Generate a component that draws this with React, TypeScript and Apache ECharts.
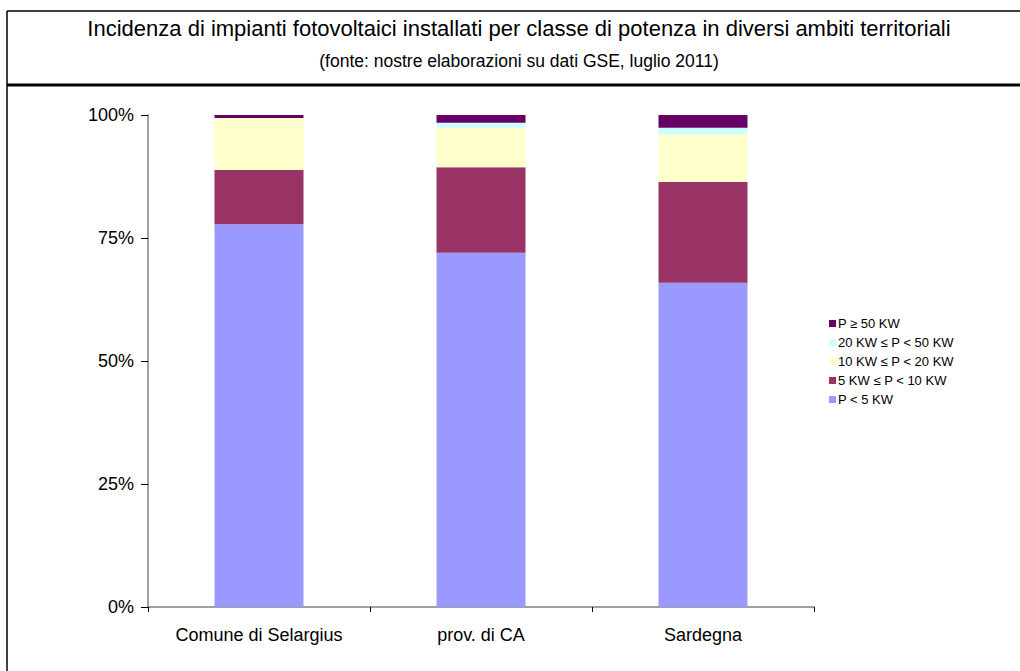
import React, { useEffect, useRef } from "react";
import * as echarts from "echarts";

const categories = ["Comune di Selargius", "prov. di CA", "Sardegna"];
const seriesNames = ["P < 5 KW", "5 KW ≤ P < 10 KW", "10 KW ≤ P < 20 KW", "20 KW ≤ P < 50 KW", "P ≥ 50 KW"];
const pLt5 = [77.8, 72.0, 65.9];
const p5to10 = [11.0, 17.4, 20.5];
const p10to20 = [10.6, 8.0, 9.7];
const p20to50 = [0.0, 1.0, 1.3];
const pGe50 = [0.6, 1.6, 2.6];
const colors = ["#9999FF", "#993366", "#FFFFCC", "#CCFFFF", "#660066"];
const yTicks = [0, 25, 50, 75, 100];

export default function App() {
  const ref = useRef<HTMLDivElement>(null);
  useEffect(() => {
    if (!ref.current) return;
    const chart = echarts.init(ref.current, null, { renderer: "svg" });
    const values = [pLt5, p5to10, p10to20, p20to50, pGe50];
    chart.setOption({
      animation: false,
      backgroundColor: "#ffffff",
      textStyle: { fontFamily: "Liberation Sans, Arial, sans-serif" },
      graphic: [
        { type: "line", shape: { x1: 7, y1: 11, x2: 1020, y2: 11 }, style: { stroke: "#000", lineWidth: 1.5 } },
        { type: "line", shape: { x1: 7, y1: 11, x2: 7, y2: 671 }, style: { stroke: "#000", lineWidth: 1.5 } },
        { type: "line", shape: { x1: 7, y1: 85, x2: 1020, y2: 85 }, style: { stroke: "#000", lineWidth: 3 } },
        {
          type: "text", x: 519, y: 28,
          style: { text: "Incidenza di impianti fotovoltaici installati per classe di potenza in diversi ambiti territoriali", fontSize: 22, fill: "#000", align: "center", verticalAlign: "middle", fontFamily: "Liberation Sans, Arial, sans-serif" }
        },
        {
          type: "text", x: 519, y: 61,
          style: { text: "(fonte: nostre elaborazioni su dati GSE, luglio 2011)", fontSize: 17.5, fill: "#000", align: "center", verticalAlign: "middle", fontFamily: "Liberation Sans, Arial, sans-serif" }
        }
      ],
      legend: {
        orient: "vertical",
        left: 829,
        top: 317,
        padding: 0,
        itemWidth: 7,
        itemHeight: 7,
        itemGap: 6,
        icon: "rect",
        data: seriesNames.slice().reverse(),
        textStyle: { fontSize: 13, color: "#000", padding: [0, 0, 0, -3] }
      },
      grid: { left: 148, right: 206, top: 115, bottom: 64, containLabel: false },
      xAxis: {
        type: "category",
        data: categories,
        boundaryGap: true,
        axisLine: { lineStyle: { color: "#808080", width: 1.5 } },
        axisTick: { show: true, alignWithLabel: false, length: 5, lineStyle: { color: "#000" } },
        axisLabel: { fontSize: 18, color: "#000", margin: 19 }
      },
      yAxis: {
        type: "value",
        min: 0,
        max: 100,
        interval: 25,
        splitLine: { show: false },
        axisLine: { show: true, lineStyle: { color: "#808080", width: 1.5 } },
        axisTick: { show: true, length: 7, lineStyle: { color: "#000" } },
        axisLabel: {
          fontSize: 18, color: "#000", margin: 14,
          formatter: (v: number) => (yTicks.includes(v) ? v + "%" : "")
        }
      },
      series: seriesNames.map((name, i) => ({
        name,
        type: "bar",
        stack: "total",
        barWidth: 89,
        data: values[i],
        itemStyle: { color: colors[i] }
      }))
    });
    return () => chart.dispose();
  }, []);
  return <div ref={ref} style={{ position: "fixed", left: 0, top: 0, width: 1020, height: 671 }} />;
}
